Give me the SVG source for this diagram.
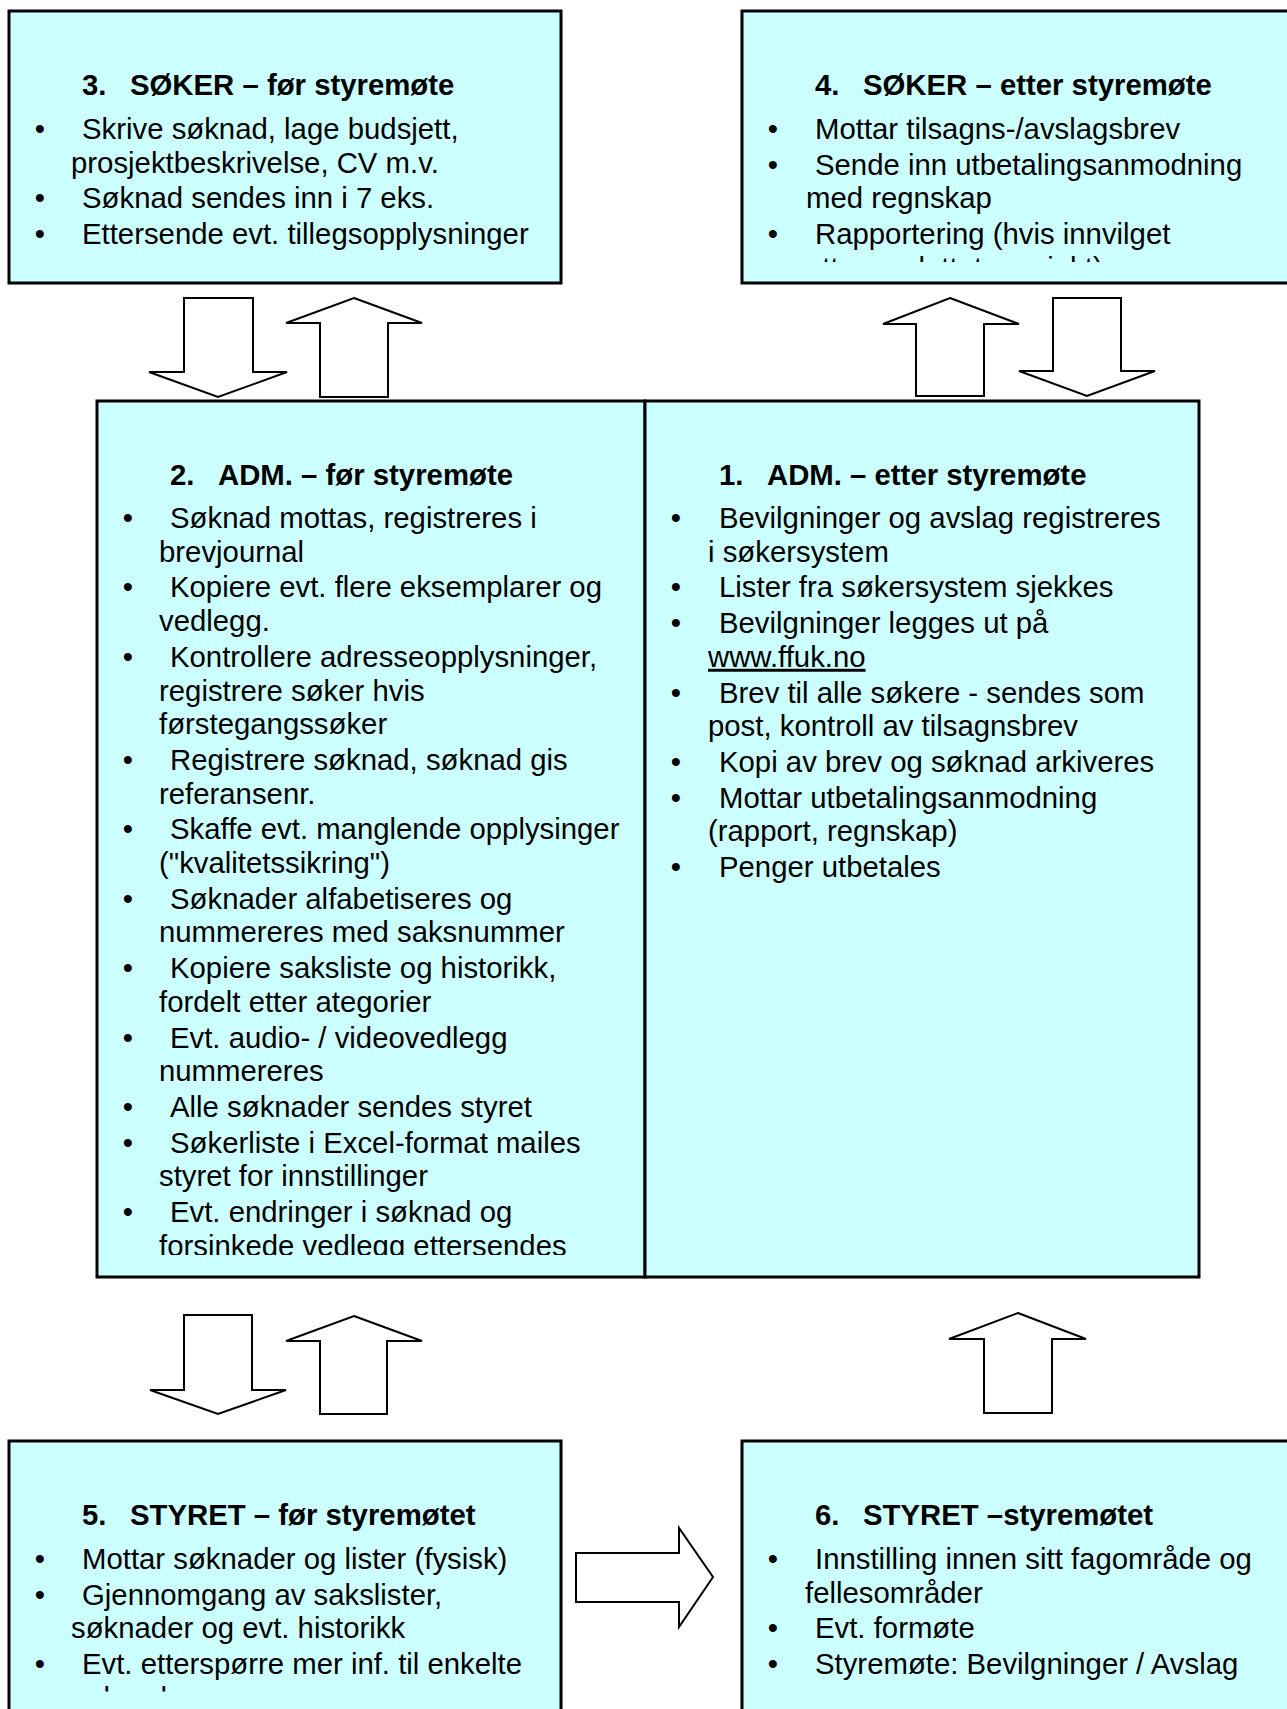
<svg xmlns="http://www.w3.org/2000/svg" width="1287" height="1709" viewBox="0 0 1287 1709">
<style>
.box{fill:#CCFFFF;stroke:#000;stroke-width:3}
.arrow{fill:#fff;stroke:#000;stroke-width:2;stroke-linejoin:miter}
text{font-family:"Liberation Sans",Arial,sans-serif;font-size:29.33px;fill:#000}
.h{font-weight:bold}
.b{text-anchor:middle}
</style>
<defs>
<clipPath id="clip4"><rect x="742" y="11" width="560" height="251"/></clipPath>
<clipPath id="clip2"><rect x="97" y="401" width="548" height="854"/></clipPath>
<clipPath id="clip5"><rect x="9" y="1441" width="552" height="250.5"/></clipPath>
</defs>
<rect width="1287" height="1709" fill="#fff"/>

<g id="node3">
<rect class="box" x="9" y="11" width="552" height="272"/>
<text class="h" y="95"><tspan x="82">3.</tspan><tspan x="130">SØKER – før styremøte</tspan></text>
<text class="b" x="40" y="139">•</text><text x="82" y="139">Skrive søknad, lage budsjett,</text>
<text x="71" y="173">prosjektbeskrivelse, CV m.v.</text>
<text class="b" x="40" y="208">•</text><text x="82" y="208">Søknad sendes inn i 7 eks.</text>
<text class="b" x="40" y="244">•</text><text x="82" y="244">Ettersende evt. tillegsopplysninger</text>
</g>

<g id="node4">
<rect class="box" x="742" y="11" width="560" height="272"/>
<text class="h" y="95"><tspan x="815">4.</tspan><tspan x="863">SØKER – etter styremøte</tspan></text>
<g clip-path="url(#clip4)">
<text class="b" x="773" y="139">•</text><text x="815" y="139">Mottar tilsagns-/avslagsbrev</text>
<text class="b" x="773" y="175">•</text><text x="815" y="175">Sende inn utbetalingsanmodning</text>
<text x="806" y="208">med regnskap</text>
<text class="b" x="773" y="244">•</text><text x="815" y="244">Rapportering (hvis innvilget</text>
<text x="806" y="278">etter avsluttet prosjekt)</text>
</g>
</g>

<g id="node2">
<rect class="box" x="97" y="401" width="548" height="876"/>
<text class="h" y="485"><tspan x="170">2.</tspan><tspan x="218">ADM. – før styremøte</tspan></text>
<g clip-path="url(#clip2)">
<text class="b" x="128" y="528">•</text><text x="170" y="528">Søknad mottas, registreres i</text>
<text x="159" y="561.7">brevjournal</text>
<text class="b" x="128" y="597.4">•</text><text x="170" y="597.4">Kopiere evt. flere eksemplarer og</text>
<text x="159" y="631.1">vedlegg.</text>
<text class="b" x="128" y="666.8">•</text><text x="170" y="666.8">Kontrollere adresseopplysninger,</text>
<text x="159" y="700.5">registrere søker hvis</text>
<text x="159" y="734.2">førstegangssøker</text>
<text class="b" x="128" y="769.9">•</text><text x="170" y="769.9">Registrere søknad, søknad gis</text>
<text x="159" y="803.6">referansenr.</text>
<text class="b" x="128" y="839.3">•</text><text x="170" y="839.3">Skaffe evt. manglende opplysinger</text>
<text x="159" y="873">("kvalitetssikring")</text>
<text class="b" x="128" y="908.7">•</text><text x="170" y="908.7">Søknader alfabetiseres og</text>
<text x="159" y="942.4">nummereres med saksnummer</text>
<text class="b" x="128" y="978.1">•</text><text x="170" y="978.1">Kopiere saksliste og historikk,</text>
<text x="159" y="1011.8">fordelt etter ategorier</text>
<text class="b" x="128" y="1047.5">•</text><text x="170" y="1047.5">Evt. audio- / videovedlegg</text>
<text x="159" y="1081.2">nummereres</text>
<text class="b" x="128" y="1116.9">•</text><text x="170" y="1116.9">Alle søknader sendes styret</text>
<text class="b" x="128" y="1152.6">•</text><text x="170" y="1152.6">Søkerliste i Excel-format mailes</text>
<text x="159" y="1186.3">styret for innstillinger</text>
<text class="b" x="128" y="1222">•</text><text x="170" y="1222">Evt. endringer i søknad og</text>
<text x="159" y="1256">forsinkede vedlegg ettersendes</text>
</g>
</g>

<g id="node1">
<rect class="box" x="645" y="401" width="554" height="876"/>
<text class="h" y="485"><tspan x="719">1.</tspan><tspan x="767">ADM. – etter styremøte</tspan></text>
<text class="b" x="676" y="528">•</text><text x="719" y="528">Bevilgninger og avslag registreres</text>
<text x="708" y="561.7">i søkersystem</text>
<text class="b" x="676" y="597.4">•</text><text x="719" y="597.4">Lister fra søkersystem sjekkes</text>
<text class="b" x="676" y="633.1">•</text><text x="719" y="633.1">Bevilgninger legges ut på</text>
<text x="708" y="666.8" text-decoration="underline">www.ffuk.no</text>
<text class="b" x="676" y="702.5">•</text><text x="719" y="702.5">Brev til alle søkere - sendes som</text>
<text x="708" y="736.2">post, kontroll av tilsagnsbrev</text>
<text class="b" x="676" y="771.9">•</text><text x="719" y="771.9">Kopi av brev og søknad arkiveres</text>
<text class="b" x="676" y="807.6">•</text><text x="719" y="807.6">Mottar utbetalingsanmodning</text>
<text x="708" y="841.3">(rapport, regnskap)</text>
<text class="b" x="676" y="877">•</text><text x="719" y="877">Penger utbetales</text>
</g>

<g id="node5">
<rect class="box" x="9" y="1441" width="552" height="290"/>
<text class="h" y="1525"><tspan x="82">5.</tspan><tspan x="130">STYRET – før styremøtet</tspan></text>
<g clip-path="url(#clip5)">
<text class="b" x="40" y="1569">•</text><text x="82" y="1569">Mottar søknader og lister (fysisk)</text>
<text class="b" x="40" y="1604.7">•</text><text x="82" y="1604.7">Gjennomgang av sakslister,</text>
<text x="71" y="1638.4">søknader og evt. historikk</text>
<text class="b" x="40" y="1674.1">•</text><text x="82" y="1674.1">Evt. etterspørre mer inf. til enkelte</text>
<text x="71" y="1707.8">søknader</text>
</g>
</g>

<g id="node6">
<rect class="box" x="742" y="1441" width="560" height="290"/>
<text class="h" y="1525"><tspan x="815">6.</tspan><tspan x="863">STYRET –styremøtet</tspan></text>
<text class="b" x="773" y="1569">•</text><text x="815" y="1569">Innstilling innen sitt fagområde og</text>
<text x="805" y="1602.7">fellesområder</text>
<text class="b" x="773" y="1638.4">•</text><text x="815" y="1638.4">Evt. formøte</text>
<text class="b" x="773" y="1674.1">•</text><text x="815" y="1674.1">Styremøte: Bevilgninger / Avslag</text>
</g>

<g id="connectors">
<polygon class="arrow" points="184,298 253,298 253,372 287,372 218,397 149,372 184,372"/>
<polygon class="arrow" points="354,298 422,323 388,323 388,397 320,397 320,323 286,323"/>
<polygon class="arrow" points="950,298 1019,324 984,324 984,396 916,396 916,324 883,324"/>
<polygon class="arrow" points="1053,298 1121,298 1121,371 1155,371 1087,396 1019,371 1053,371"/>
<polygon class="arrow" points="184,1315 252,1315 252,1390 286,1390 218,1414 150,1390 184,1390"/>
<polygon class="arrow" points="354,1316 422,1341 387,1341 387,1414 320,1414 320,1341 286,1341"/>
<polygon class="arrow" points="1018,1313 1086,1339 1052,1339 1052,1413 984,1413 984,1339 949,1339"/>
<polygon class="arrow" points="576,1553 679,1553 679,1528 713,1577 679,1627 679,1602 576,1602"/>
</g>
</svg>
